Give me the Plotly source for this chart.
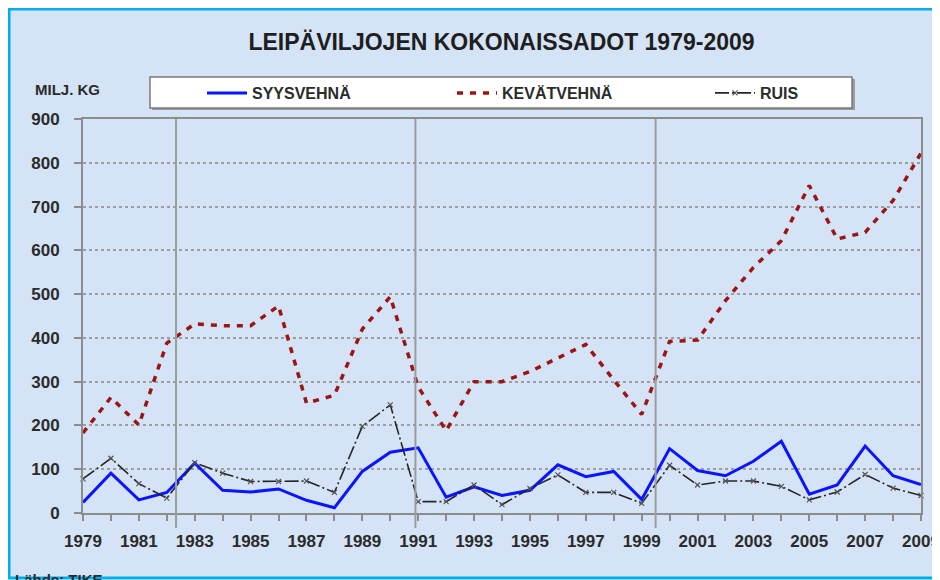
import plotly.graph_objects as go

years = list(range(1979, 2010))

syysvehna = [24, 91, 30, 47, 114, 52, 48, 55, 29, 12, 95, 139, 149, 36, 60, 40, 52, 110, 83,
             95, 31, 147, 97, 85, 118, 164, 43, 64, 153, 85, 65]
kevatvehna = [183, 264, 201, 388, 432, 428, 428, 473, 251, 269, 420, 494, 288, 188, 300, 300,
              323, 354, 385, 304, 225, 392, 395, 485, 561, 622, 748, 626, 641, 714, 822]
ruis = [78, 125, 67, 34, 115, 91, 72, 72, 73, 47, 198, 247, 26, 26, 64, 19, 56, 87, 47, 47,
        22, 109, 64, 73, 73, 61, 30, 48, 88, 57, 40]

series_names = ["SYYSVEHNÄ", "KEVÄTVEHNÄ", "RUIS"]
period_breaks = [1982.33, 1990.9, 1999.5]

title_text = "LEIPÄVILJOJEN KOKONAISSADOT 1979-2009"
unit_text = "MILJ. KG"
source_text = "Lähde: TIKE"

FONT = "Liberation Sans Narrow, Arial Narrow, Liberation Sans, Arial, sans-serif"
TXT = "#2b2b2b"
PANEL = "#d5e3f6"
FRAME = "#00adef"
AXIS = "#8c8c8c"

# the page has an 8px body margin, so the figure starts at (8, 8) on screen
OFF = 8
W, H = 940, 580
# plot area, in screen pixels
SL, SR, ST, SB = 83, 921, 119, 513
L, R, T, B = SL - OFF, SR - OFF, ST - OFF, SB - OFF


def px_x(p):
    return (p - SL) / (SR - SL)


def px_y(p):
    return (SB - p) / (SB - ST)


fig = go.Figure()
fig.add_trace(go.Scatter(
    x=years, y=syysvehna, name=series_names[0], mode="lines", legend="legend",
    line=dict(color="#0a14ff", width=3),
))
fig.add_trace(go.Scatter(
    x=years, y=kevatvehna, name=series_names[1], mode="lines", legend="legend2",
    line=dict(color="#9b1515", width=3.5, dash="6px,7px"),
))
fig.add_trace(go.Scatter(
    x=years, y=ruis, name=series_names[2], mode="lines+markers", legend="legend3",
    line=dict(color="#262626", width=1.6, dash="14px,3px,2px,3px"),
    marker=dict(symbol="x-thin", size=5, line=dict(color="#555", width=1.2)),
    cliponaxis=False,
))

shapes = [
    # light blue panel with cyan frame
    dict(type="rect", xref="paper", yref="paper", layer="below",
         x0=px_x(9), x1=px_x(960), y0=px_y(578), y1=px_y(9),
         fillcolor=PANEL, line=dict(color=FRAME, width=3)),
    # legend box shadow + box
    dict(type="rect", xref="paper", yref="paper", layer="below",
         x0=px_x(152), x1=px_x(855), y0=px_y(110), y1=px_y(79),
         fillcolor="#9a9a9a", line=dict(width=0)),
    dict(type="rect", xref="paper", yref="paper", layer="below",
         x0=px_x(150), x1=px_x(852), y0=px_y(108), y1=px_y(77),
         fillcolor="white", line=dict(color="#7a7a7a", width=1.5)),
]
for b in period_breaks:
    shapes.append(dict(type="line", xref="x", yref="paper", x0=b, x1=b,
                       y0=px_y(528), y1=1, line=dict(color="#9c9c9c", width=2)))


def legend_at(px):
    return dict(orientation="h", x=px_x(px), xanchor="left", y=px_y(93), yanchor="middle",
                bgcolor="rgba(0,0,0,0)", borderwidth=0, itemwidth=40,
                font=dict(size=16, weight=700, color=TXT))


fig.update_layout(
    width=W, height=H,
    margin=dict(l=L, r=W - R, t=T, b=H - B, autoexpand=False),
    paper_bgcolor="white",
    plot_bgcolor="white",
    font=dict(family=FONT, color=TXT, size=17, weight=700),
    title=dict(text=title_text, x=px_x(501.5), xref="paper", xanchor="center",
               y=1 - (42 - OFF) / H, yanchor="middle",
               font=dict(size=23, weight=700, color="#1e1e1e")),
    showlegend=True,
    legend=legend_at(202),
    legend2=legend_at(452),
    legend3=legend_at(710),
    shapes=shapes,
    annotations=[
        dict(text=unit_text, xref="paper", yref="paper", x=px_x(33), y=px_y(89),
             xanchor="left", yanchor="middle", showarrow=False,
             font=dict(size=15, weight=700, color=TXT)),
        dict(text=source_text, xref="paper", yref="paper", x=px_x(13), y=px_y(569),
             xanchor="left", yanchor="top", showarrow=False,
             font=dict(size=15, weight=700, color=TXT)),
    ],
)

fig.update_xaxes(
    range=[1979, 2009], tick0=1979, dtick=2, ticks="outside", ticklen=6, tickwidth=1.5,
    tickcolor=AXIS, showline=True, linecolor=AXIS, linewidth=2, mirror=True,
    showgrid=False, zeroline=False, ticklabelstandoff=6,
    minor=dict(dtick=1, tick0=1979, ticks="outside", ticklen=6, tickwidth=1.5, tickcolor=AXIS),
    tickfont=dict(size=17, weight=700, color=TXT),
)
fig.update_yaxes(
    range=[0, 900], dtick=100, ticks="outside", ticklen=7, tickwidth=1.5, tickcolor=AXIS,
    showline=True, linecolor=AXIS, linewidth=2, mirror=True,
    showgrid=True, gridcolor="#9e9e9e", gridwidth=1.5, griddash="dot", zeroline=False,
    ticklabelstandoff=11, tickfont=dict(size=17, weight=700, color=TXT),
)

fig.write_html("out.html")
